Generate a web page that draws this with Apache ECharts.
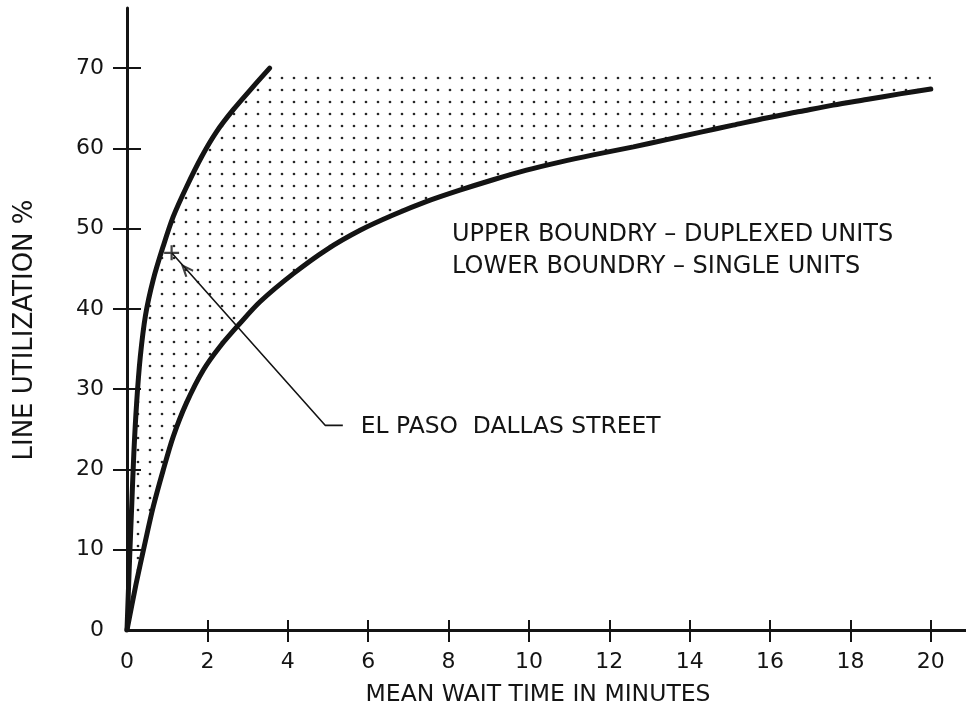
<!DOCTYPE html>
<html>
<head>
<meta charset="utf-8">
<script src="https://cdn.jsdelivr.net/npm/echarts@6/dist/echarts.min.js"></script>
<style>
  html, body { margin: 0; padding: 0; background: #ffffff; }
  #chart { width: 966px; height: 708px; }
</style>
</head>
<body>
<div id="chart"></div>
<script>
// Axis ticks and labels
const xTicks = [0, 2, 4, 6, 8, 10, 12, 14, 16, 18, 20];
const yTicks = [0, 10, 20, 30, 40, 50, 60, 70];

// Upper boundary: duplexed units (wait minutes, utilization %)
const upperX = [0, 0.03, 0.07, 0.12, 0.17, 0.24, 0.33, 0.46, 0.65, 0.90, 1.15, 1.48, 1.86, 2.23, 2.64, 3.14, 3.55];
const upperY = [0, 4.2, 9.6, 15.8, 22.0, 28.3, 34.0, 39.2, 43.6, 47.8, 51.5, 55.2, 59.0, 62.1, 64.8, 67.7, 70.0];

// Lower boundary: single units
const lowerX = [0, 0.22, 0.45, 0.65, 0.90, 1.15, 1.48, 1.90, 2.31, 2.81, 3.31, 4.14, 4.97, 5.80, 6.62, 7.46, 8.28, 9.11, 9.94, 10.77, 11.60, 12.60, 13.43, 14.25, 15.08, 15.91, 16.74, 17.57, 18.40, 19.23, 20.00];
const lowerY = [0, 5.6, 10.9, 15.3, 19.9, 24.1, 28.3, 32.4, 35.3, 38.2, 40.9, 44.4, 47.4, 49.8, 51.7, 53.4, 54.8, 56.1, 57.3, 58.3, 59.2, 60.2, 61.1, 62.0, 62.9, 63.8, 64.6, 65.4, 66.1, 66.8, 67.4];

// The shaded band is capped at this utilization and runs out to this wait time
const bandCapY = 70;
const bandEndX = 20;

// Observed site and its call-out leader
const siteName = 'EL PASO  DALLAS STREET';
const siteX = 1.11, siteY = 47.0;
const leaderX = [1.11, 4.93, 5.37];
const leaderY = [47.0, 25.5, 25.5];
const arrowX = 1.47, arrowY = 44.9;

const noteLines = ['UPPER BOUNDRY \u2013 DUPLEXED UNITS', 'LOWER BOUNDRY \u2013 SINGLE UNITS'];

const FONT = '"DejaVu Sans", "Liberation Sans", sans-serif';
const INK = '#141414';

const zip = (xs, ys) => xs.map((x, i) => [x, ys[i]]);

// Small repeating tile with one dot: the stipple inside the band
function dotTile() {
  const c = document.createElement('canvas');
  c.width = 12; c.height = 12;
  const g = c.getContext('2d');
  g.fillStyle = '#262626';
  g.beginPath();
  g.arc(6, 6, 1.35, 0, Math.PI * 2);
  g.fill();
  return c;
}
const stipple = { image: dotTile(), repeat: 'repeat' };

const chart = echarts.init(document.getElementById('chart'), null, { renderer: 'canvas' });

const axisBase = {
  type: 'value',
  min: 0,
  splitLine: { show: false }
};

chart.setOption({
  backgroundColor: '#ffffff',
  animation: false,
  grid: { left: 127, right: -5, top: 8, bottom: 78, outerBoundsMode: 'none', containLabel: false },
  xAxis: [
    Object.assign({}, axisBase, {
      max: 21,
      interval: 2,
      position: 'bottom',
      axisLine: { lineStyle: { color: INK, width: 3 } },
      axisTick: { length: 12, customValues: xTicks.slice(1), lineStyle: { color: INK, width: 2 } },
      axisLabel: { customValues: xTicks, margin: 21, fontSize: 22, color: INK, fontFamily: FONT },
      name: 'MEAN WAIT TIME IN MINUTES',
      nameLocation: 'middle',
      nameGap: 53,
      nameTextStyle: { fontSize: 23.5, color: INK, fontFamily: FONT, padding: [0, 22, 0, 0] }
    }),
    Object.assign({}, axisBase, {
      max: 21,
      interval: 2,
      position: 'bottom',
      offset: 0,
      axisLine: { show: false },
      axisTick: { inside: true, length: 10, customValues: xTicks.slice(1), lineStyle: { color: INK, width: 2 } },
      axisLabel: { show: false }
    })
  ],
  yAxis: [
    Object.assign({}, axisBase, {
      max: 77.5,
      interval: 10,
      position: 'left',
      axisLine: { lineStyle: { color: INK, width: 3 } },
      axisTick: { length: 14, customValues: yTicks.slice(1), lineStyle: { color: INK, width: 2 } },
      axisLabel: { customValues: yTicks, margin: 23, fontSize: 22, color: INK, fontFamily: FONT },
      name: 'LINE UTILIZATION %',
      nameLocation: 'middle',
      nameGap: 89,
      nameTextStyle: { fontSize: 26, color: INK, fontFamily: FONT, padding: [0, 22, 0, 0] }
    }),
    Object.assign({}, axisBase, {
      max: 77.5,
      interval: 10,
      position: 'left',
      offset: 0,
      axisLine: { show: false },
      axisTick: { inside: true, length: 14, customValues: yTicks.slice(1), lineStyle: { color: INK, width: 2 } },
      axisLabel: { show: false }
    })
  ],
  graphic: [{
    type: 'text',
    x: 452,
    y: 251,
    silent: true,
    style: {
      text: noteLines.join('\n'),
      font: '24px ' + FONT,
      fill: INK,
      lineHeight: 32,
      verticalAlign: 'middle'
    }
  }],
  series: [
    {
      // stippled band between the two boundaries
      type: 'custom',
      coordinateSystem: 'cartesian2d',
      silent: true,
      clip: false,
      z: 1,
      data: [[0, 0]],
      renderItem: (params, api) => {
        const pts = [];
        upperX.forEach((x, i) => pts.push(api.coord([x, Math.min(upperY[i], bandCapY)])));
        pts.push(api.coord([bandEndX, bandCapY]));
        for (let i = lowerX.length - 1; i >= 0; i--) pts.push(api.coord([lowerX[i], lowerY[i]]));
        return { type: 'polygon', shape: { points: pts }, style: { fill: stipple } };
      }
    },
    {
      name: 'Duplexed units',
      type: 'line',
      data: zip(upperX, upperY),
      smooth: 0.3,
      symbol: 'none',
      z: 4,
      lineStyle: { color: INK, width: 5, cap: 'round' }
    },
    {
      name: 'Single units',
      type: 'line',
      data: zip(lowerX, lowerY),
      smooth: 0.3,
      symbol: 'none',
      z: 4,
      lineStyle: { color: INK, width: 5, cap: 'round' }
    },
    {
      name: siteName,
      type: 'line',
      data: zip(leaderX, leaderY),
      symbol: 'none',
      z: 5,
      lineStyle: { color: INK, width: 1.6 },
      endLabel: {
        show: true,
        formatter: siteName,
        distance: 18,
        offset: [0, 2],
        fontSize: 23.4,
        color: INK,
        fontFamily: FONT
      }
    },
    {
      // site mark and the arrow head on its leader
      type: 'scatter',
      z: 6,
      silent: true,
      data: [
        { value: [siteX, siteY], symbol: 'path://M0,-1L0,1M-1,0L1,0', symbolSize: 15, symbolRotate: 0 },
        { value: [arrowX, arrowY], symbol: 'path://M-1,1L0,0L1,1', symbolSize: [9, 11], symbolRotate: 41.5 }
      ],
      itemStyle: { color: 'none', borderColor: INK, borderWidth: 2.2 }
    }
  ]
});
</script>
</body>
</html>
